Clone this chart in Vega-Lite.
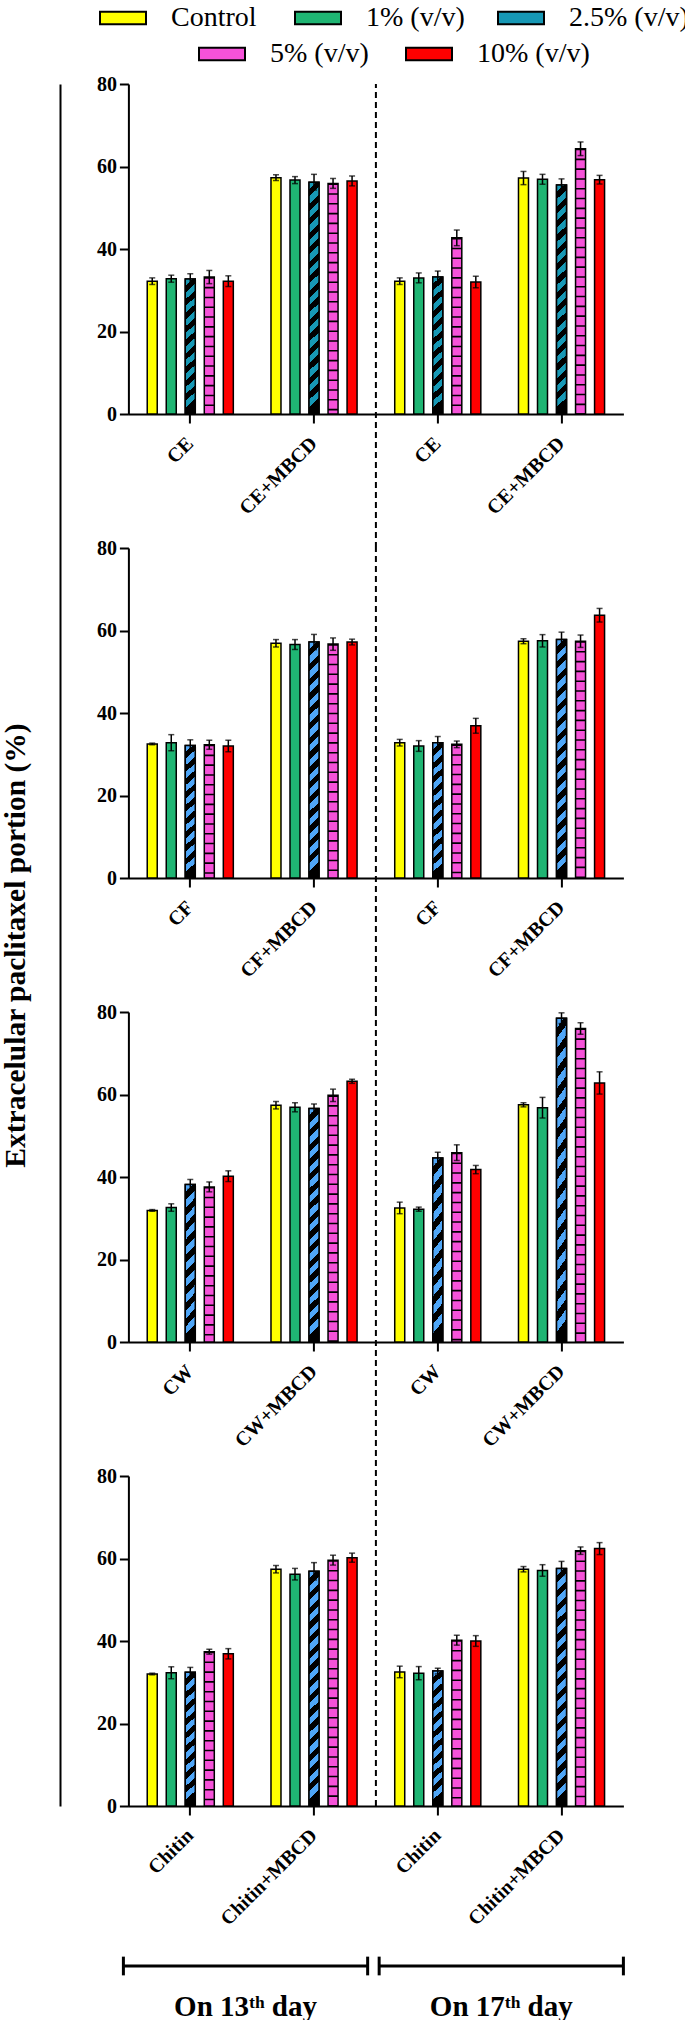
{
  "$schema": "https://vega.github.io/schema/vega-lite/v6.json",
  "background": "white",
  "padding": {"left": 0, "top": 4, "right": 0, "bottom": 0},
  "config": {
    "view": {"stroke": null},
    "font": "Liberation Serif",
    "axis": {"grid": false, "domainColor": "black", "domainWidth": 2, "tickColor": "black", "tickWidth": 2, "tickSize": 9, "labelColor": "black", "labelFont": "Liberation Serif", "labelFontWeight": "bold", "titleColor": "black", "titleFont": "Liberation Serif"},
    "axisX": {"labelAngle": -45, "labelAlign": "right", "labelBaseline": "middle", "labelFontSize": 20, "labelPadding": 17},
    "axisY": {"labelFontSize": 20, "labelPadding": 3},
    "legend": {"orient": "none", "direction": "horizontal", "title": null, "padding": 0, "labelFont": "Liberation Serif", "labelFontSize": 28, "labelColor": "black", "symbolType": "M-2,-0.54H2V0.54H-2Z", "symbolSize": 529, "symbolStrokeColor": "black", "symbolStrokeWidth": 2, "symbolOpacity": 1, "labelOffset": 34}
  },
  "datasets": {
    "bars": [
      {"m": "CE", "s": "CE|13", "c": "Control", "v": 32.2, "lo": 31.4, "hi": 33.0},
      {"m": "CE", "s": "CE|13", "c": "1% (v/v)", "v": 32.8, "lo": 31.95, "hi": 33.65},
      {"m": "CE", "s": "CE|13", "c": "2.5% (v/v)", "v": 32.7, "lo": 31.4, "hi": 34.0},
      {"m": "CE", "s": "CE|13", "c": "5% (v/v)", "v": 33.2, "lo": 31.6, "hi": 34.8},
      {"m": "CE", "s": "CE|13", "c": "10% (v/v)", "v": 32.2, "lo": 30.9, "hi": 33.5},
      {"m": "CE", "s": "CE+MBCD|13", "c": "Control", "v": 57.3, "lo": 56.6, "hi": 58.0},
      {"m": "CE", "s": "CE+MBCD|13", "c": "1% (v/v)", "v": 56.7, "lo": 55.85, "hi": 57.55},
      {"m": "CE", "s": "CE+MBCD|13", "c": "2.5% (v/v)", "v": 56.2, "lo": 54.3, "hi": 58.1},
      {"m": "CE", "s": "CE+MBCD|13", "c": "5% (v/v)", "v": 55.9, "lo": 54.7, "hi": 57.1},
      {"m": "CE", "s": "CE+MBCD|13", "c": "10% (v/v)", "v": 56.5, "lo": 55.3, "hi": 57.7},
      {"m": "CE", "s": "CE|17", "c": "Control", "v": 32.2, "lo": 31.4, "hi": 33.0},
      {"m": "CE", "s": "CE|17", "c": "1% (v/v)", "v": 33.0, "lo": 31.8, "hi": 34.2},
      {"m": "CE", "s": "CE|17", "c": "2.5% (v/v)", "v": 33.2, "lo": 31.75, "hi": 34.65},
      {"m": "CE", "s": "CE|17", "c": "5% (v/v)", "v": 42.7, "lo": 40.8, "hi": 44.6},
      {"m": "CE", "s": "CE|17", "c": "10% (v/v)", "v": 32.0, "lo": 30.6, "hi": 33.4},
      {"m": "CE", "s": "CE+MBCD|17", "c": "Control", "v": 57.2, "lo": 55.6, "hi": 58.8},
      {"m": "CE", "s": "CE+MBCD|17", "c": "1% (v/v)", "v": 56.9, "lo": 55.7, "hi": 58.1},
      {"m": "CE", "s": "CE+MBCD|17", "c": "2.5% (v/v)", "v": 55.5, "lo": 54.0, "hi": 57.0},
      {"m": "CE", "s": "CE+MBCD|17", "c": "5% (v/v)", "v": 64.3, "lo": 62.65, "hi": 65.95},
      {"m": "CE", "s": "CE+MBCD|17", "c": "10% (v/v)", "v": 56.8, "lo": 55.75, "hi": 57.85},
      {"m": "CF", "s": "CF|13", "c": "Control", "v": 32.5, "lo": 32.3, "hi": 32.7},
      {"m": "CF", "s": "CF|13", "c": "1% (v/v)", "v": 32.8, "lo": 30.85, "hi": 34.75},
      {"m": "CF", "s": "CF|13", "c": "2.5% (v/v)", "v": 32.1, "lo": 30.7, "hi": 33.5},
      {"m": "CF", "s": "CF|13", "c": "5% (v/v)", "v": 32.3, "lo": 31.2, "hi": 33.4},
      {"m": "CF", "s": "CF|13", "c": "10% (v/v)", "v": 32.0, "lo": 30.6, "hi": 33.4},
      {"m": "CF", "s": "CF+MBCD|13", "c": "Control", "v": 56.9, "lo": 56.0, "hi": 57.8},
      {"m": "CF", "s": "CF+MBCD|13", "c": "1% (v/v)", "v": 56.6, "lo": 55.4, "hi": 57.8},
      {"m": "CF", "s": "CF+MBCD|13", "c": "2.5% (v/v)", "v": 57.2, "lo": 55.35, "hi": 59.05},
      {"m": "CF", "s": "CF+MBCD|13", "c": "5% (v/v)", "v": 56.7, "lo": 55.2, "hi": 58.2},
      {"m": "CF", "s": "CF+MBCD|13", "c": "10% (v/v)", "v": 57.2, "lo": 56.5, "hi": 57.9},
      {"m": "CF", "s": "CF|17", "c": "Control", "v": 32.8, "lo": 32.0, "hi": 33.6},
      {"m": "CF", "s": "CF|17", "c": "1% (v/v)", "v": 32.0, "lo": 30.7, "hi": 33.3},
      {"m": "CF", "s": "CF|17", "c": "2.5% (v/v)", "v": 32.8, "lo": 31.3, "hi": 34.3},
      {"m": "CF", "s": "CF|17", "c": "5% (v/v)", "v": 32.4, "lo": 31.6, "hi": 33.2},
      {"m": "CF", "s": "CF|17", "c": "10% (v/v)", "v": 36.9, "lo": 35.1, "hi": 38.7},
      {"m": "CF", "s": "CF+MBCD|17", "c": "Control", "v": 57.4, "lo": 56.8, "hi": 58.0},
      {"m": "CF", "s": "CF+MBCD|17", "c": "1% (v/v)", "v": 57.5, "lo": 56.0, "hi": 59.0},
      {"m": "CF", "s": "CF+MBCD|17", "c": "2.5% (v/v)", "v": 57.8, "lo": 56.0, "hi": 59.6},
      {"m": "CF", "s": "CF+MBCD|17", "c": "5% (v/v)", "v": 57.4, "lo": 55.9, "hi": 58.9},
      {"m": "CF", "s": "CF+MBCD|17", "c": "10% (v/v)", "v": 63.7, "lo": 62.05, "hi": 65.35},
      {"m": "CW", "s": "CW|13", "c": "Control", "v": 31.9, "lo": 31.7, "hi": 32.1},
      {"m": "CW", "s": "CW|13", "c": "1% (v/v)", "v": 32.6, "lo": 31.7, "hi": 33.5},
      {"m": "CW", "s": "CW|13", "c": "2.5% (v/v)", "v": 38.2, "lo": 37.0, "hi": 39.4},
      {"m": "CW", "s": "CW|13", "c": "5% (v/v)", "v": 37.6, "lo": 36.4, "hi": 38.8},
      {"m": "CW", "s": "CW|13", "c": "10% (v/v)", "v": 40.2, "lo": 38.9, "hi": 41.5},
      {"m": "CW", "s": "CW+MBCD|13", "c": "Control", "v": 57.4, "lo": 56.5, "hi": 58.3},
      {"m": "CW", "s": "CW+MBCD|13", "c": "1% (v/v)", "v": 56.9, "lo": 55.8, "hi": 58.0},
      {"m": "CW", "s": "CW+MBCD|13", "c": "2.5% (v/v)", "v": 56.6, "lo": 55.5, "hi": 57.7},
      {"m": "CW", "s": "CW+MBCD|13", "c": "5% (v/v)", "v": 59.8, "lo": 58.3, "hi": 61.3},
      {"m": "CW", "s": "CW+MBCD|13", "c": "10% (v/v)", "v": 63.2, "lo": 62.7, "hi": 63.7},
      {"m": "CW", "s": "CW|17", "c": "Control", "v": 32.5, "lo": 31.1, "hi": 33.9},
      {"m": "CW", "s": "CW|17", "c": "1% (v/v)", "v": 32.2, "lo": 31.7, "hi": 32.7},
      {"m": "CW", "s": "CW|17", "c": "2.5% (v/v)", "v": 44.6, "lo": 43.2, "hi": 46.0},
      {"m": "CW", "s": "CW|17", "c": "5% (v/v)", "v": 45.9, "lo": 44.0, "hi": 47.8},
      {"m": "CW", "s": "CW|17", "c": "10% (v/v)", "v": 41.8, "lo": 40.8, "hi": 42.8},
      {"m": "CW", "s": "CW+MBCD|17", "c": "Control", "v": 57.5, "lo": 57.0, "hi": 58.0},
      {"m": "CW", "s": "CW+MBCD|17", "c": "1% (v/v)", "v": 56.8, "lo": 54.3, "hi": 59.3},
      {"m": "CW", "s": "CW+MBCD|17", "c": "2.5% (v/v)", "v": 78.5, "lo": 77.2, "hi": 79.8},
      {"m": "CW", "s": "CW+MBCD|17", "c": "5% (v/v)", "v": 76.0, "lo": 74.6, "hi": 77.4},
      {"m": "CW", "s": "CW+MBCD|17", "c": "10% (v/v)", "v": 62.8, "lo": 60.1, "hi": 65.5},
      {"m": "Chitin", "s": "Chitin|13", "c": "Control", "v": 32.0, "lo": 31.8, "hi": 32.2},
      {"m": "Chitin", "s": "Chitin|13", "c": "1% (v/v)", "v": 32.3, "lo": 30.85, "hi": 33.75},
      {"m": "Chitin", "s": "Chitin|13", "c": "2.5% (v/v)", "v": 32.4, "lo": 31.2, "hi": 33.6},
      {"m": "Chitin", "s": "Chitin|13", "c": "5% (v/v)", "v": 37.4, "lo": 36.8, "hi": 38.0},
      {"m": "Chitin", "s": "Chitin|13", "c": "10% (v/v)", "v": 36.9, "lo": 35.65, "hi": 38.15},
      {"m": "Chitin", "s": "Chitin+MBCD|13", "c": "Control", "v": 57.4, "lo": 56.5, "hi": 58.3},
      {"m": "Chitin", "s": "Chitin+MBCD|13", "c": "1% (v/v)", "v": 56.2, "lo": 54.8, "hi": 57.6},
      {"m": "Chitin", "s": "Chitin+MBCD|13", "c": "2.5% (v/v)", "v": 56.9, "lo": 54.8, "hi": 59.0},
      {"m": "Chitin", "s": "Chitin+MBCD|13", "c": "5% (v/v)", "v": 59.6, "lo": 58.4, "hi": 60.8},
      {"m": "Chitin", "s": "Chitin+MBCD|13", "c": "10% (v/v)", "v": 60.2, "lo": 59.1, "hi": 61.3},
      {"m": "Chitin", "s": "Chitin|17", "c": "Control", "v": 32.5, "lo": 31.1, "hi": 33.9},
      {"m": "Chitin", "s": "Chitin|17", "c": "1% (v/v)", "v": 32.2, "lo": 30.6, "hi": 33.8},
      {"m": "Chitin", "s": "Chitin|17", "c": "2.5% (v/v)", "v": 32.7, "lo": 32.0, "hi": 33.4},
      {"m": "Chitin", "s": "Chitin|17", "c": "5% (v/v)", "v": 40.2, "lo": 39.0, "hi": 41.4},
      {"m": "Chitin", "s": "Chitin|17", "c": "10% (v/v)", "v": 40.0, "lo": 38.7, "hi": 41.3},
      {"m": "Chitin", "s": "Chitin+MBCD|17", "c": "Control", "v": 57.4, "lo": 56.75, "hi": 58.05},
      {"m": "Chitin", "s": "Chitin+MBCD|17", "c": "1% (v/v)", "v": 57.1, "lo": 55.7, "hi": 58.5},
      {"m": "Chitin", "s": "Chitin+MBCD|17", "c": "2.5% (v/v)", "v": 57.6, "lo": 55.9, "hi": 59.3},
      {"m": "Chitin", "s": "Chitin+MBCD|17", "c": "5% (v/v)", "v": 61.9, "lo": 61.0, "hi": 62.8},
      {"m": "Chitin", "s": "Chitin+MBCD|17", "c": "10% (v/v)", "v": 62.4, "lo": 60.95, "hi": 63.85}
    ]
  },
  "bounds": "flush",
  "spacing": 58.4,
  "resolve": {"scale": {"fill": "independent"}, "legend": {"fill": "independent"}},
  "hconcat": [
    {
      "width": 10,
      "height": 1722,
      "data": {"name": "bars"},
      "resolve": {"scale": {"fill": "independent"}, "legend": {"fill": "independent"}},
      "layer": [
        {
          "transform": [{"filter": "datum.c == 'Control'"}],
          "mark": {"type": "point", "filled": true, "opacity": 0},
          "encoding": {
            "y": {"datum": 0.5, "type": "quantitative", "scale": {"domain": [0, 1]}, "axis": {"title": "Extracelular paclitaxel portion (%)", "labels": false, "ticks": false, "domainWidth": 2, "titleFontSize": 29.5, "titleFontWeight": "bold", "titlePadding": 30}},
            "fill": {"field": "c", "type": "nominal", "scale": {"domain": ["Control"], "range": ["#ffff00"]}, "legend": {"values": ["Control"], "legendX": 49, "legendY": -80}}
          }
        },
        {
          "transform": [{"filter": "datum.c == '1% (v/v)'"}],
          "mark": {"type": "point", "filled": true, "opacity": 0},
          "encoding": {
            "y": {"datum": 0.5, "type": "quantitative", "scale": {"domain": [0, 1]}, "title": "Extracelular paclitaxel portion (%)"},
            "fill": {"field": "c", "type": "nominal", "scale": {"domain": ["1% (v/v)"], "range": ["#1fb573"]}, "legend": {"values": ["1% (v/v)"], "legendX": 244, "legendY": -80}}
          }
        },
        {
          "transform": [{"filter": "datum.c == '2.5% (v/v)'"}],
          "mark": {"type": "point", "filled": true, "opacity": 0},
          "encoding": {
            "y": {"datum": 0.5, "type": "quantitative", "scale": {"domain": [0, 1]}, "title": "Extracelular paclitaxel portion (%)"},
            "fill": {"field": "c", "type": "nominal", "scale": {"domain": ["2.5% (v/v)"], "range": ["#1798b5"]}, "legend": {"values": ["2.5% (v/v)"], "legendX": 447, "legendY": -80}}
          }
        },
        {
          "transform": [{"filter": "datum.c == '5% (v/v)'"}],
          "mark": {"type": "point", "filled": true, "opacity": 0},
          "encoding": {
            "y": {"datum": 0.5, "type": "quantitative", "scale": {"domain": [0, 1]}, "title": "Extracelular paclitaxel portion (%)"},
            "fill": {"field": "c", "type": "nominal", "scale": {"domain": ["5% (v/v)"], "range": ["#f652d9"]}, "legend": {"values": ["5% (v/v)"], "legendX": 148, "legendY": -44}}
          }
        },
        {
          "transform": [{"filter": "datum.c == '10% (v/v)'"}],
          "mark": {"type": "point", "filled": true, "opacity": 0},
          "encoding": {
            "y": {"datum": 0.5, "type": "quantitative", "scale": {"domain": [0, 1]}, "title": "Extracelular paclitaxel portion (%)"},
            "fill": {"field": "c", "type": "nominal", "scale": {"domain": ["10% (v/v)"], "range": ["#ff0000"]}, "legend": {"values": ["10% (v/v)"], "legendX": 355, "legendY": -44}}
          }
        }
      ]
    },
    {
      "bounds": "flush",
      "spacing": 134,
      "resolve": {"scale": {"fill": "independent"}, "legend": {"fill": "independent"}},
      "vconcat": [
        {
          "width": 495, "height": 330,
          "data": {"name": "bars"},
          "transform": [{"filter": "datum.m == 'CE'"}],
          "layer": [
            {"mark": {"type": "bar", "stroke": "black", "strokeWidth": 1.5},
             "encoding": {
               "x": {"field": "s", "type": "nominal", "title": null, "scale": {"domain": ["CE|13", "CE+MBCD|13", "CE|17", "CE+MBCD|17"], "paddingInner": 0, "paddingOuter": 0}, "axis": {"labelExpr": "split(datum.label, '|')[0]", "labelAngle": -45}},
               "xOffset": {"field": "c", "type": "nominal", "scale": {"domain": ["Control", "1% (v/v)", "2.5% (v/v)", "5% (v/v)", "10% (v/v)"], "paddingInner": 0.474, "paddingOuter": 0.99}},
               "y": {"field": "v", "type": "quantitative", "title": null, "scale": {"domain": [0, 80], "nice": false}, "axis": {"values": [0, 20, 40, 60, 80]}},
               "fill": {"field": "c", "type": "nominal", "scale": {"domain": ["Control", "1% (v/v)", "2.5% (v/v)", "5% (v/v)", "10% (v/v)"], "range": ["#ffff00", "#1fb573", "#1798b5", "#f652d9", "#ff0000"]}, "legend": null}
             }},
            {"transform": [{"filter": "datum.c == '2.5% (v/v)' && datum.v < 50"}],
             "mark": {"type": "bar", "stroke": "black", "strokeWidth": 1.5, "fill": {"gradient": "linear", "x1": 0, "y1": 0, "x2": 0.067, "y2": 1, "stops": [
               {"offset": 0, "color": "#1798b5"}, {"offset": 0.05, "color": "#1798b5"}, {"offset": 0.05, "color": "#000000"}, {"offset": 0.1, "color": "#000000"},
               {"offset": 0.1, "color": "#1798b5"}, {"offset": 0.15, "color": "#1798b5"}, {"offset": 0.15, "color": "#000000"}, {"offset": 0.2, "color": "#000000"},
               {"offset": 0.2, "color": "#1798b5"}, {"offset": 0.25, "color": "#1798b5"}, {"offset": 0.25, "color": "#000000"}, {"offset": 0.3, "color": "#000000"},
               {"offset": 0.3, "color": "#1798b5"}, {"offset": 0.35, "color": "#1798b5"}, {"offset": 0.35, "color": "#000000"}, {"offset": 0.4, "color": "#000000"},
               {"offset": 0.4, "color": "#1798b5"}, {"offset": 0.45, "color": "#1798b5"}, {"offset": 0.45, "color": "#000000"}, {"offset": 0.5, "color": "#000000"},
               {"offset": 0.5, "color": "#1798b5"}, {"offset": 0.55, "color": "#1798b5"}, {"offset": 0.55, "color": "#000000"}, {"offset": 0.6, "color": "#000000"},
               {"offset": 0.6, "color": "#1798b5"}, {"offset": 0.65, "color": "#1798b5"}, {"offset": 0.65, "color": "#000000"}, {"offset": 0.7, "color": "#000000"},
               {"offset": 0.7, "color": "#1798b5"}, {"offset": 0.75, "color": "#1798b5"}, {"offset": 0.75, "color": "#000000"}, {"offset": 0.8, "color": "#000000"},
               {"offset": 0.8, "color": "#1798b5"}, {"offset": 0.85, "color": "#1798b5"}, {"offset": 0.85, "color": "#000000"}, {"offset": 0.9, "color": "#000000"},
               {"offset": 0.9, "color": "#1798b5"}, {"offset": 0.95, "color": "#1798b5"}, {"offset": 0.95, "color": "#000000"}, {"offset": 1, "color": "#000000"}]}},
             "encoding": {
               "x": {"field": "s", "type": "nominal", "title": null},
               "xOffset": {"field": "c", "type": "nominal"},
               "y": {"field": "v", "type": "quantitative", "title": null}
             }},
            {"transform": [{"filter": "datum.c == '2.5% (v/v)' && datum.v >= 50"}],
             "mark": {"type": "bar", "stroke": "black", "strokeWidth": 1.5, "fill": {"gradient": "linear", "x1": 0, "y1": 0, "x2": 0.042, "y2": 1, "stops": [
               {"offset": 0, "color": "#1798b5"}, {"offset": 0.03125, "color": "#1798b5"}, {"offset": 0.03125, "color": "#000000"}, {"offset": 0.0625, "color": "#000000"},
               {"offset": 0.0625, "color": "#1798b5"}, {"offset": 0.09375, "color": "#1798b5"}, {"offset": 0.09375, "color": "#000000"}, {"offset": 0.125, "color": "#000000"},
               {"offset": 0.125, "color": "#1798b5"}, {"offset": 0.15625, "color": "#1798b5"}, {"offset": 0.15625, "color": "#000000"}, {"offset": 0.1875, "color": "#000000"},
               {"offset": 0.1875, "color": "#1798b5"}, {"offset": 0.21875, "color": "#1798b5"}, {"offset": 0.21875, "color": "#000000"}, {"offset": 0.25, "color": "#000000"},
               {"offset": 0.25, "color": "#1798b5"}, {"offset": 0.28125, "color": "#1798b5"}, {"offset": 0.28125, "color": "#000000"}, {"offset": 0.3125, "color": "#000000"},
               {"offset": 0.3125, "color": "#1798b5"}, {"offset": 0.34375, "color": "#1798b5"}, {"offset": 0.34375, "color": "#000000"}, {"offset": 0.375, "color": "#000000"},
               {"offset": 0.375, "color": "#1798b5"}, {"offset": 0.40625, "color": "#1798b5"}, {"offset": 0.40625, "color": "#000000"}, {"offset": 0.4375, "color": "#000000"},
               {"offset": 0.4375, "color": "#1798b5"}, {"offset": 0.46875, "color": "#1798b5"}, {"offset": 0.46875, "color": "#000000"}, {"offset": 0.5, "color": "#000000"},
               {"offset": 0.5, "color": "#1798b5"}, {"offset": 0.53125, "color": "#1798b5"}, {"offset": 0.53125, "color": "#000000"}, {"offset": 0.5625, "color": "#000000"},
               {"offset": 0.5625, "color": "#1798b5"}, {"offset": 0.59375, "color": "#1798b5"}, {"offset": 0.59375, "color": "#000000"}, {"offset": 0.625, "color": "#000000"},
               {"offset": 0.625, "color": "#1798b5"}, {"offset": 0.65625, "color": "#1798b5"}, {"offset": 0.65625, "color": "#000000"}, {"offset": 0.6875, "color": "#000000"},
               {"offset": 0.6875, "color": "#1798b5"}, {"offset": 0.71875, "color": "#1798b5"}, {"offset": 0.71875, "color": "#000000"}, {"offset": 0.75, "color": "#000000"},
               {"offset": 0.75, "color": "#1798b5"}, {"offset": 0.78125, "color": "#1798b5"}, {"offset": 0.78125, "color": "#000000"}, {"offset": 0.8125, "color": "#000000"},
               {"offset": 0.8125, "color": "#1798b5"}, {"offset": 0.84375, "color": "#1798b5"}, {"offset": 0.84375, "color": "#000000"}, {"offset": 0.875, "color": "#000000"},
               {"offset": 0.875, "color": "#1798b5"}, {"offset": 0.90625, "color": "#1798b5"}, {"offset": 0.90625, "color": "#000000"}, {"offset": 0.9375, "color": "#000000"},
               {"offset": 0.9375, "color": "#1798b5"}, {"offset": 0.96875, "color": "#1798b5"}, {"offset": 0.96875, "color": "#000000"}, {"offset": 1, "color": "#000000"}]}},
             "encoding": {
               "x": {"field": "s", "type": "nominal", "title": null},
               "xOffset": {"field": "c", "type": "nominal"},
               "y": {"field": "v", "type": "quantitative", "title": null}
             }},
            {"transform": [{"filter": "datum.c == '5% (v/v)'"}],
             "mark": {"type": "rule", "color": "black", "strokeWidth": 10, "strokeDash": [1.6, 8.2], "strokeCap": "butt"},
             "encoding": {
               "x": {"field": "s", "type": "nominal", "title": null},
               "xOffset": {"field": "c", "type": "nominal"},
               "y": {"field": "v", "type": "quantitative", "title": null},
               "y2": {"datum": 0}
             }},
            {"mark": {"type": "rule", "color": "black", "strokeWidth": 1.5},
             "encoding": {
               "x": {"field": "s", "type": "nominal", "title": null},
               "xOffset": {"field": "c", "type": "nominal"},
               "y": {"field": "lo", "type": "quantitative", "title": null},
               "y2": {"field": "hi"}
             }},
            {"mark": {"type": "tick", "color": "black", "thickness": 1.5, "size": 6},
             "encoding": {
               "x": {"field": "s", "type": "nominal", "title": null},
               "xOffset": {"field": "c", "type": "nominal"},
               "y": {"field": "lo", "type": "quantitative", "title": null}
             }},
            {"mark": {"type": "tick", "color": "black", "thickness": 1.5, "size": 6},
             "encoding": {
               "x": {"field": "s", "type": "nominal", "title": null},
               "xOffset": {"field": "c", "type": "nominal"},
               "y": {"field": "hi", "type": "quantitative", "title": null}
             }},
            {"data": {"values": [{"sep": "day"}]},
             "mark": {"type": "rule", "color": "black", "strokeWidth": 2, "strokeDash": [6, 4]},
             "encoding": {
               "x": {"datum": "CE+MBCD|13", "type": "nominal", "bandPosition": 1, "title": null},
               "y": {"datum": -32.5, "type": "quantitative", "title": null},
               "y2": {"datum": 80}
             }}
          ]
        },
        {
          "width": 495, "height": 330,
          "data": {"name": "bars"},
          "transform": [{"filter": "datum.m == 'CF'"}],
          "layer": [
            {"mark": {"type": "bar", "stroke": "black", "strokeWidth": 1.5},
             "encoding": {
               "x": {"field": "s", "type": "nominal", "title": null, "scale": {"domain": ["CF|13", "CF+MBCD|13", "CF|17", "CF+MBCD|17"], "paddingInner": 0, "paddingOuter": 0}, "axis": {"labelExpr": "split(datum.label, '|')[0]", "labelAngle": -45}},
               "xOffset": {"field": "c", "type": "nominal", "scale": {"domain": ["Control", "1% (v/v)", "2.5% (v/v)", "5% (v/v)", "10% (v/v)"], "paddingInner": 0.474, "paddingOuter": 0.99}},
               "y": {"field": "v", "type": "quantitative", "title": null, "scale": {"domain": [0, 80], "nice": false}, "axis": {"values": [0, 20, 40, 60, 80]}},
               "fill": {"field": "c", "type": "nominal", "scale": {"domain": ["Control", "1% (v/v)", "2.5% (v/v)", "5% (v/v)", "10% (v/v)"], "range": ["#ffff00", "#1fb573", "#4fa6f7", "#f652d9", "#ff0000"]}, "legend": null}
             }},
            {"transform": [{"filter": "datum.c == '2.5% (v/v)' && datum.v < 50"}],
             "mark": {"type": "bar", "stroke": "black", "strokeWidth": 1.5, "fill": {"gradient": "linear", "x1": 0, "y1": 0, "x2": 0.067, "y2": 1, "stops": [
               {"offset": 0, "color": "#4fa6f7"}, {"offset": 0.05, "color": "#4fa6f7"}, {"offset": 0.05, "color": "#000000"}, {"offset": 0.1, "color": "#000000"},
               {"offset": 0.1, "color": "#4fa6f7"}, {"offset": 0.15, "color": "#4fa6f7"}, {"offset": 0.15, "color": "#000000"}, {"offset": 0.2, "color": "#000000"},
               {"offset": 0.2, "color": "#4fa6f7"}, {"offset": 0.25, "color": "#4fa6f7"}, {"offset": 0.25, "color": "#000000"}, {"offset": 0.3, "color": "#000000"},
               {"offset": 0.3, "color": "#4fa6f7"}, {"offset": 0.35, "color": "#4fa6f7"}, {"offset": 0.35, "color": "#000000"}, {"offset": 0.4, "color": "#000000"},
               {"offset": 0.4, "color": "#4fa6f7"}, {"offset": 0.45, "color": "#4fa6f7"}, {"offset": 0.45, "color": "#000000"}, {"offset": 0.5, "color": "#000000"},
               {"offset": 0.5, "color": "#4fa6f7"}, {"offset": 0.55, "color": "#4fa6f7"}, {"offset": 0.55, "color": "#000000"}, {"offset": 0.6, "color": "#000000"},
               {"offset": 0.6, "color": "#4fa6f7"}, {"offset": 0.65, "color": "#4fa6f7"}, {"offset": 0.65, "color": "#000000"}, {"offset": 0.7, "color": "#000000"},
               {"offset": 0.7, "color": "#4fa6f7"}, {"offset": 0.75, "color": "#4fa6f7"}, {"offset": 0.75, "color": "#000000"}, {"offset": 0.8, "color": "#000000"},
               {"offset": 0.8, "color": "#4fa6f7"}, {"offset": 0.85, "color": "#4fa6f7"}, {"offset": 0.85, "color": "#000000"}, {"offset": 0.9, "color": "#000000"},
               {"offset": 0.9, "color": "#4fa6f7"}, {"offset": 0.95, "color": "#4fa6f7"}, {"offset": 0.95, "color": "#000000"}, {"offset": 1, "color": "#000000"}]}},
             "encoding": {
               "x": {"field": "s", "type": "nominal", "title": null},
               "xOffset": {"field": "c", "type": "nominal"},
               "y": {"field": "v", "type": "quantitative", "title": null}
             }},
            {"transform": [{"filter": "datum.c == '2.5% (v/v)' && datum.v >= 50"}],
             "mark": {"type": "bar", "stroke": "black", "strokeWidth": 1.5, "fill": {"gradient": "linear", "x1": 0, "y1": 0, "x2": 0.042, "y2": 1, "stops": [
               {"offset": 0, "color": "#4fa6f7"}, {"offset": 0.03125, "color": "#4fa6f7"}, {"offset": 0.03125, "color": "#000000"}, {"offset": 0.0625, "color": "#000000"},
               {"offset": 0.0625, "color": "#4fa6f7"}, {"offset": 0.09375, "color": "#4fa6f7"}, {"offset": 0.09375, "color": "#000000"}, {"offset": 0.125, "color": "#000000"},
               {"offset": 0.125, "color": "#4fa6f7"}, {"offset": 0.15625, "color": "#4fa6f7"}, {"offset": 0.15625, "color": "#000000"}, {"offset": 0.1875, "color": "#000000"},
               {"offset": 0.1875, "color": "#4fa6f7"}, {"offset": 0.21875, "color": "#4fa6f7"}, {"offset": 0.21875, "color": "#000000"}, {"offset": 0.25, "color": "#000000"},
               {"offset": 0.25, "color": "#4fa6f7"}, {"offset": 0.28125, "color": "#4fa6f7"}, {"offset": 0.28125, "color": "#000000"}, {"offset": 0.3125, "color": "#000000"},
               {"offset": 0.3125, "color": "#4fa6f7"}, {"offset": 0.34375, "color": "#4fa6f7"}, {"offset": 0.34375, "color": "#000000"}, {"offset": 0.375, "color": "#000000"},
               {"offset": 0.375, "color": "#4fa6f7"}, {"offset": 0.40625, "color": "#4fa6f7"}, {"offset": 0.40625, "color": "#000000"}, {"offset": 0.4375, "color": "#000000"},
               {"offset": 0.4375, "color": "#4fa6f7"}, {"offset": 0.46875, "color": "#4fa6f7"}, {"offset": 0.46875, "color": "#000000"}, {"offset": 0.5, "color": "#000000"},
               {"offset": 0.5, "color": "#4fa6f7"}, {"offset": 0.53125, "color": "#4fa6f7"}, {"offset": 0.53125, "color": "#000000"}, {"offset": 0.5625, "color": "#000000"},
               {"offset": 0.5625, "color": "#4fa6f7"}, {"offset": 0.59375, "color": "#4fa6f7"}, {"offset": 0.59375, "color": "#000000"}, {"offset": 0.625, "color": "#000000"},
               {"offset": 0.625, "color": "#4fa6f7"}, {"offset": 0.65625, "color": "#4fa6f7"}, {"offset": 0.65625, "color": "#000000"}, {"offset": 0.6875, "color": "#000000"},
               {"offset": 0.6875, "color": "#4fa6f7"}, {"offset": 0.71875, "color": "#4fa6f7"}, {"offset": 0.71875, "color": "#000000"}, {"offset": 0.75, "color": "#000000"},
               {"offset": 0.75, "color": "#4fa6f7"}, {"offset": 0.78125, "color": "#4fa6f7"}, {"offset": 0.78125, "color": "#000000"}, {"offset": 0.8125, "color": "#000000"},
               {"offset": 0.8125, "color": "#4fa6f7"}, {"offset": 0.84375, "color": "#4fa6f7"}, {"offset": 0.84375, "color": "#000000"}, {"offset": 0.875, "color": "#000000"},
               {"offset": 0.875, "color": "#4fa6f7"}, {"offset": 0.90625, "color": "#4fa6f7"}, {"offset": 0.90625, "color": "#000000"}, {"offset": 0.9375, "color": "#000000"},
               {"offset": 0.9375, "color": "#4fa6f7"}, {"offset": 0.96875, "color": "#4fa6f7"}, {"offset": 0.96875, "color": "#000000"}, {"offset": 1, "color": "#000000"}]}},
             "encoding": {
               "x": {"field": "s", "type": "nominal", "title": null},
               "xOffset": {"field": "c", "type": "nominal"},
               "y": {"field": "v", "type": "quantitative", "title": null}
             }},
            {"transform": [{"filter": "datum.c == '5% (v/v)'"}],
             "mark": {"type": "rule", "color": "black", "strokeWidth": 10, "strokeDash": [1.6, 8.2], "strokeCap": "butt"},
             "encoding": {
               "x": {"field": "s", "type": "nominal", "title": null},
               "xOffset": {"field": "c", "type": "nominal"},
               "y": {"field": "v", "type": "quantitative", "title": null},
               "y2": {"datum": 0}
             }},
            {"mark": {"type": "rule", "color": "black", "strokeWidth": 1.5},
             "encoding": {
               "x": {"field": "s", "type": "nominal", "title": null},
               "xOffset": {"field": "c", "type": "nominal"},
               "y": {"field": "lo", "type": "quantitative", "title": null},
               "y2": {"field": "hi"}
             }},
            {"mark": {"type": "tick", "color": "black", "thickness": 1.5, "size": 6},
             "encoding": {
               "x": {"field": "s", "type": "nominal", "title": null},
               "xOffset": {"field": "c", "type": "nominal"},
               "y": {"field": "lo", "type": "quantitative", "title": null}
             }},
            {"mark": {"type": "tick", "color": "black", "thickness": 1.5, "size": 6},
             "encoding": {
               "x": {"field": "s", "type": "nominal", "title": null},
               "xOffset": {"field": "c", "type": "nominal"},
               "y": {"field": "hi", "type": "quantitative", "title": null}
             }},
            {"data": {"values": [{"sep": "day"}]},
             "mark": {"type": "rule", "color": "black", "strokeWidth": 2, "strokeDash": [6, 4]},
             "encoding": {
               "x": {"datum": "CF+MBCD|13", "type": "nominal", "bandPosition": 1, "title": null},
               "y": {"datum": -32.5, "type": "quantitative", "title": null},
               "y2": {"datum": 80}
             }}
          ]
        },
        {
          "width": 495, "height": 330,
          "data": {"name": "bars"},
          "transform": [{"filter": "datum.m == 'CW'"}],
          "layer": [
            {"mark": {"type": "bar", "stroke": "black", "strokeWidth": 1.5},
             "encoding": {
               "x": {"field": "s", "type": "nominal", "title": null, "scale": {"domain": ["CW|13", "CW+MBCD|13", "CW|17", "CW+MBCD|17"], "paddingInner": 0, "paddingOuter": 0}, "axis": {"labelExpr": "split(datum.label, '|')[0]", "labelAngle": -45}},
               "xOffset": {"field": "c", "type": "nominal", "scale": {"domain": ["Control", "1% (v/v)", "2.5% (v/v)", "5% (v/v)", "10% (v/v)"], "paddingInner": 0.474, "paddingOuter": 0.99}},
               "y": {"field": "v", "type": "quantitative", "title": null, "scale": {"domain": [0, 80], "nice": false}, "axis": {"values": [0, 20, 40, 60, 80]}},
               "fill": {"field": "c", "type": "nominal", "scale": {"domain": ["Control", "1% (v/v)", "2.5% (v/v)", "5% (v/v)", "10% (v/v)"], "range": ["#ffff00", "#1fb573", "#4fa6f7", "#f652d9", "#ff0000"]}, "legend": null}
             }},
            {"transform": [{"filter": "datum.c == '2.5% (v/v)' && datum.v < 50"}],
             "mark": {"type": "bar", "stroke": "black", "strokeWidth": 1.5, "fill": {"gradient": "linear", "x1": 0, "y1": 0, "x2": 0.067, "y2": 1, "stops": [
               {"offset": 0, "color": "#4fa6f7"}, {"offset": 0.05, "color": "#4fa6f7"}, {"offset": 0.05, "color": "#000000"}, {"offset": 0.1, "color": "#000000"},
               {"offset": 0.1, "color": "#4fa6f7"}, {"offset": 0.15, "color": "#4fa6f7"}, {"offset": 0.15, "color": "#000000"}, {"offset": 0.2, "color": "#000000"},
               {"offset": 0.2, "color": "#4fa6f7"}, {"offset": 0.25, "color": "#4fa6f7"}, {"offset": 0.25, "color": "#000000"}, {"offset": 0.3, "color": "#000000"},
               {"offset": 0.3, "color": "#4fa6f7"}, {"offset": 0.35, "color": "#4fa6f7"}, {"offset": 0.35, "color": "#000000"}, {"offset": 0.4, "color": "#000000"},
               {"offset": 0.4, "color": "#4fa6f7"}, {"offset": 0.45, "color": "#4fa6f7"}, {"offset": 0.45, "color": "#000000"}, {"offset": 0.5, "color": "#000000"},
               {"offset": 0.5, "color": "#4fa6f7"}, {"offset": 0.55, "color": "#4fa6f7"}, {"offset": 0.55, "color": "#000000"}, {"offset": 0.6, "color": "#000000"},
               {"offset": 0.6, "color": "#4fa6f7"}, {"offset": 0.65, "color": "#4fa6f7"}, {"offset": 0.65, "color": "#000000"}, {"offset": 0.7, "color": "#000000"},
               {"offset": 0.7, "color": "#4fa6f7"}, {"offset": 0.75, "color": "#4fa6f7"}, {"offset": 0.75, "color": "#000000"}, {"offset": 0.8, "color": "#000000"},
               {"offset": 0.8, "color": "#4fa6f7"}, {"offset": 0.85, "color": "#4fa6f7"}, {"offset": 0.85, "color": "#000000"}, {"offset": 0.9, "color": "#000000"},
               {"offset": 0.9, "color": "#4fa6f7"}, {"offset": 0.95, "color": "#4fa6f7"}, {"offset": 0.95, "color": "#000000"}, {"offset": 1, "color": "#000000"}]}},
             "encoding": {
               "x": {"field": "s", "type": "nominal", "title": null},
               "xOffset": {"field": "c", "type": "nominal"},
               "y": {"field": "v", "type": "quantitative", "title": null}
             }},
            {"transform": [{"filter": "datum.c == '2.5% (v/v)' && datum.v >= 50"}],
             "mark": {"type": "bar", "stroke": "black", "strokeWidth": 1.5, "fill": {"gradient": "linear", "x1": 0, "y1": 0, "x2": 0.042, "y2": 1, "stops": [
               {"offset": 0, "color": "#4fa6f7"}, {"offset": 0.03125, "color": "#4fa6f7"}, {"offset": 0.03125, "color": "#000000"}, {"offset": 0.0625, "color": "#000000"},
               {"offset": 0.0625, "color": "#4fa6f7"}, {"offset": 0.09375, "color": "#4fa6f7"}, {"offset": 0.09375, "color": "#000000"}, {"offset": 0.125, "color": "#000000"},
               {"offset": 0.125, "color": "#4fa6f7"}, {"offset": 0.15625, "color": "#4fa6f7"}, {"offset": 0.15625, "color": "#000000"}, {"offset": 0.1875, "color": "#000000"},
               {"offset": 0.1875, "color": "#4fa6f7"}, {"offset": 0.21875, "color": "#4fa6f7"}, {"offset": 0.21875, "color": "#000000"}, {"offset": 0.25, "color": "#000000"},
               {"offset": 0.25, "color": "#4fa6f7"}, {"offset": 0.28125, "color": "#4fa6f7"}, {"offset": 0.28125, "color": "#000000"}, {"offset": 0.3125, "color": "#000000"},
               {"offset": 0.3125, "color": "#4fa6f7"}, {"offset": 0.34375, "color": "#4fa6f7"}, {"offset": 0.34375, "color": "#000000"}, {"offset": 0.375, "color": "#000000"},
               {"offset": 0.375, "color": "#4fa6f7"}, {"offset": 0.40625, "color": "#4fa6f7"}, {"offset": 0.40625, "color": "#000000"}, {"offset": 0.4375, "color": "#000000"},
               {"offset": 0.4375, "color": "#4fa6f7"}, {"offset": 0.46875, "color": "#4fa6f7"}, {"offset": 0.46875, "color": "#000000"}, {"offset": 0.5, "color": "#000000"},
               {"offset": 0.5, "color": "#4fa6f7"}, {"offset": 0.53125, "color": "#4fa6f7"}, {"offset": 0.53125, "color": "#000000"}, {"offset": 0.5625, "color": "#000000"},
               {"offset": 0.5625, "color": "#4fa6f7"}, {"offset": 0.59375, "color": "#4fa6f7"}, {"offset": 0.59375, "color": "#000000"}, {"offset": 0.625, "color": "#000000"},
               {"offset": 0.625, "color": "#4fa6f7"}, {"offset": 0.65625, "color": "#4fa6f7"}, {"offset": 0.65625, "color": "#000000"}, {"offset": 0.6875, "color": "#000000"},
               {"offset": 0.6875, "color": "#4fa6f7"}, {"offset": 0.71875, "color": "#4fa6f7"}, {"offset": 0.71875, "color": "#000000"}, {"offset": 0.75, "color": "#000000"},
               {"offset": 0.75, "color": "#4fa6f7"}, {"offset": 0.78125, "color": "#4fa6f7"}, {"offset": 0.78125, "color": "#000000"}, {"offset": 0.8125, "color": "#000000"},
               {"offset": 0.8125, "color": "#4fa6f7"}, {"offset": 0.84375, "color": "#4fa6f7"}, {"offset": 0.84375, "color": "#000000"}, {"offset": 0.875, "color": "#000000"},
               {"offset": 0.875, "color": "#4fa6f7"}, {"offset": 0.90625, "color": "#4fa6f7"}, {"offset": 0.90625, "color": "#000000"}, {"offset": 0.9375, "color": "#000000"},
               {"offset": 0.9375, "color": "#4fa6f7"}, {"offset": 0.96875, "color": "#4fa6f7"}, {"offset": 0.96875, "color": "#000000"}, {"offset": 1, "color": "#000000"}]}},
             "encoding": {
               "x": {"field": "s", "type": "nominal", "title": null},
               "xOffset": {"field": "c", "type": "nominal"},
               "y": {"field": "v", "type": "quantitative", "title": null}
             }},
            {"transform": [{"filter": "datum.c == '5% (v/v)'"}],
             "mark": {"type": "rule", "color": "black", "strokeWidth": 10, "strokeDash": [1.6, 8.2], "strokeCap": "butt"},
             "encoding": {
               "x": {"field": "s", "type": "nominal", "title": null},
               "xOffset": {"field": "c", "type": "nominal"},
               "y": {"field": "v", "type": "quantitative", "title": null},
               "y2": {"datum": 0}
             }},
            {"mark": {"type": "rule", "color": "black", "strokeWidth": 1.5},
             "encoding": {
               "x": {"field": "s", "type": "nominal", "title": null},
               "xOffset": {"field": "c", "type": "nominal"},
               "y": {"field": "lo", "type": "quantitative", "title": null},
               "y2": {"field": "hi"}
             }},
            {"mark": {"type": "tick", "color": "black", "thickness": 1.5, "size": 6},
             "encoding": {
               "x": {"field": "s", "type": "nominal", "title": null},
               "xOffset": {"field": "c", "type": "nominal"},
               "y": {"field": "lo", "type": "quantitative", "title": null}
             }},
            {"mark": {"type": "tick", "color": "black", "thickness": 1.5, "size": 6},
             "encoding": {
               "x": {"field": "s", "type": "nominal", "title": null},
               "xOffset": {"field": "c", "type": "nominal"},
               "y": {"field": "hi", "type": "quantitative", "title": null}
             }},
            {"data": {"values": [{"sep": "day"}]},
             "mark": {"type": "rule", "color": "black", "strokeWidth": 2, "strokeDash": [6, 4]},
             "encoding": {
               "x": {"datum": "CW+MBCD|13", "type": "nominal", "bandPosition": 1, "title": null},
               "y": {"datum": -32.5, "type": "quantitative", "title": null},
               "y2": {"datum": 80}
             }}
          ]
        },
        {
          "width": 495, "height": 330,
          "data": {"name": "bars"},
          "transform": [{"filter": "datum.m == 'Chitin'"}],
          "layer": [
            {"mark": {"type": "bar", "stroke": "black", "strokeWidth": 1.5},
             "encoding": {
               "x": {"field": "s", "type": "nominal", "title": null, "scale": {"domain": ["Chitin|13", "Chitin+MBCD|13", "Chitin|17", "Chitin+MBCD|17"], "paddingInner": 0, "paddingOuter": 0}, "axis": {"labelExpr": "split(datum.label, '|')[0]", "labelAngle": -45}},
               "xOffset": {"field": "c", "type": "nominal", "scale": {"domain": ["Control", "1% (v/v)", "2.5% (v/v)", "5% (v/v)", "10% (v/v)"], "paddingInner": 0.474, "paddingOuter": 0.99}},
               "y": {"field": "v", "type": "quantitative", "title": null, "scale": {"domain": [0, 80], "nice": false}, "axis": {"values": [0, 20, 40, 60, 80]}},
               "fill": {"field": "c", "type": "nominal", "scale": {"domain": ["Control", "1% (v/v)", "2.5% (v/v)", "5% (v/v)", "10% (v/v)"], "range": ["#ffff00", "#1fb573", "#4fa6f7", "#f652d9", "#ff0000"]}, "legend": null}
             }},
            {"transform": [{"filter": "datum.c == '2.5% (v/v)' && datum.v < 50"}],
             "mark": {"type": "bar", "stroke": "black", "strokeWidth": 1.5, "fill": {"gradient": "linear", "x1": 0, "y1": 0, "x2": 0.067, "y2": 1, "stops": [
               {"offset": 0, "color": "#4fa6f7"}, {"offset": 0.05, "color": "#4fa6f7"}, {"offset": 0.05, "color": "#000000"}, {"offset": 0.1, "color": "#000000"},
               {"offset": 0.1, "color": "#4fa6f7"}, {"offset": 0.15, "color": "#4fa6f7"}, {"offset": 0.15, "color": "#000000"}, {"offset": 0.2, "color": "#000000"},
               {"offset": 0.2, "color": "#4fa6f7"}, {"offset": 0.25, "color": "#4fa6f7"}, {"offset": 0.25, "color": "#000000"}, {"offset": 0.3, "color": "#000000"},
               {"offset": 0.3, "color": "#4fa6f7"}, {"offset": 0.35, "color": "#4fa6f7"}, {"offset": 0.35, "color": "#000000"}, {"offset": 0.4, "color": "#000000"},
               {"offset": 0.4, "color": "#4fa6f7"}, {"offset": 0.45, "color": "#4fa6f7"}, {"offset": 0.45, "color": "#000000"}, {"offset": 0.5, "color": "#000000"},
               {"offset": 0.5, "color": "#4fa6f7"}, {"offset": 0.55, "color": "#4fa6f7"}, {"offset": 0.55, "color": "#000000"}, {"offset": 0.6, "color": "#000000"},
               {"offset": 0.6, "color": "#4fa6f7"}, {"offset": 0.65, "color": "#4fa6f7"}, {"offset": 0.65, "color": "#000000"}, {"offset": 0.7, "color": "#000000"},
               {"offset": 0.7, "color": "#4fa6f7"}, {"offset": 0.75, "color": "#4fa6f7"}, {"offset": 0.75, "color": "#000000"}, {"offset": 0.8, "color": "#000000"},
               {"offset": 0.8, "color": "#4fa6f7"}, {"offset": 0.85, "color": "#4fa6f7"}, {"offset": 0.85, "color": "#000000"}, {"offset": 0.9, "color": "#000000"},
               {"offset": 0.9, "color": "#4fa6f7"}, {"offset": 0.95, "color": "#4fa6f7"}, {"offset": 0.95, "color": "#000000"}, {"offset": 1, "color": "#000000"}]}},
             "encoding": {
               "x": {"field": "s", "type": "nominal", "title": null},
               "xOffset": {"field": "c", "type": "nominal"},
               "y": {"field": "v", "type": "quantitative", "title": null}
             }},
            {"transform": [{"filter": "datum.c == '2.5% (v/v)' && datum.v >= 50"}],
             "mark": {"type": "bar", "stroke": "black", "strokeWidth": 1.5, "fill": {"gradient": "linear", "x1": 0, "y1": 0, "x2": 0.042, "y2": 1, "stops": [
               {"offset": 0, "color": "#4fa6f7"}, {"offset": 0.03125, "color": "#4fa6f7"}, {"offset": 0.03125, "color": "#000000"}, {"offset": 0.0625, "color": "#000000"},
               {"offset": 0.0625, "color": "#4fa6f7"}, {"offset": 0.09375, "color": "#4fa6f7"}, {"offset": 0.09375, "color": "#000000"}, {"offset": 0.125, "color": "#000000"},
               {"offset": 0.125, "color": "#4fa6f7"}, {"offset": 0.15625, "color": "#4fa6f7"}, {"offset": 0.15625, "color": "#000000"}, {"offset": 0.1875, "color": "#000000"},
               {"offset": 0.1875, "color": "#4fa6f7"}, {"offset": 0.21875, "color": "#4fa6f7"}, {"offset": 0.21875, "color": "#000000"}, {"offset": 0.25, "color": "#000000"},
               {"offset": 0.25, "color": "#4fa6f7"}, {"offset": 0.28125, "color": "#4fa6f7"}, {"offset": 0.28125, "color": "#000000"}, {"offset": 0.3125, "color": "#000000"},
               {"offset": 0.3125, "color": "#4fa6f7"}, {"offset": 0.34375, "color": "#4fa6f7"}, {"offset": 0.34375, "color": "#000000"}, {"offset": 0.375, "color": "#000000"},
               {"offset": 0.375, "color": "#4fa6f7"}, {"offset": 0.40625, "color": "#4fa6f7"}, {"offset": 0.40625, "color": "#000000"}, {"offset": 0.4375, "color": "#000000"},
               {"offset": 0.4375, "color": "#4fa6f7"}, {"offset": 0.46875, "color": "#4fa6f7"}, {"offset": 0.46875, "color": "#000000"}, {"offset": 0.5, "color": "#000000"},
               {"offset": 0.5, "color": "#4fa6f7"}, {"offset": 0.53125, "color": "#4fa6f7"}, {"offset": 0.53125, "color": "#000000"}, {"offset": 0.5625, "color": "#000000"},
               {"offset": 0.5625, "color": "#4fa6f7"}, {"offset": 0.59375, "color": "#4fa6f7"}, {"offset": 0.59375, "color": "#000000"}, {"offset": 0.625, "color": "#000000"},
               {"offset": 0.625, "color": "#4fa6f7"}, {"offset": 0.65625, "color": "#4fa6f7"}, {"offset": 0.65625, "color": "#000000"}, {"offset": 0.6875, "color": "#000000"},
               {"offset": 0.6875, "color": "#4fa6f7"}, {"offset": 0.71875, "color": "#4fa6f7"}, {"offset": 0.71875, "color": "#000000"}, {"offset": 0.75, "color": "#000000"},
               {"offset": 0.75, "color": "#4fa6f7"}, {"offset": 0.78125, "color": "#4fa6f7"}, {"offset": 0.78125, "color": "#000000"}, {"offset": 0.8125, "color": "#000000"},
               {"offset": 0.8125, "color": "#4fa6f7"}, {"offset": 0.84375, "color": "#4fa6f7"}, {"offset": 0.84375, "color": "#000000"}, {"offset": 0.875, "color": "#000000"},
               {"offset": 0.875, "color": "#4fa6f7"}, {"offset": 0.90625, "color": "#4fa6f7"}, {"offset": 0.90625, "color": "#000000"}, {"offset": 0.9375, "color": "#000000"},
               {"offset": 0.9375, "color": "#4fa6f7"}, {"offset": 0.96875, "color": "#4fa6f7"}, {"offset": 0.96875, "color": "#000000"}, {"offset": 1, "color": "#000000"}]}},
             "encoding": {
               "x": {"field": "s", "type": "nominal", "title": null},
               "xOffset": {"field": "c", "type": "nominal"},
               "y": {"field": "v", "type": "quantitative", "title": null}
             }},
            {"transform": [{"filter": "datum.c == '5% (v/v)'"}],
             "mark": {"type": "rule", "color": "black", "strokeWidth": 10, "strokeDash": [1.6, 8.2], "strokeCap": "butt"},
             "encoding": {
               "x": {"field": "s", "type": "nominal", "title": null},
               "xOffset": {"field": "c", "type": "nominal"},
               "y": {"field": "v", "type": "quantitative", "title": null},
               "y2": {"datum": 0}
             }},
            {"mark": {"type": "rule", "color": "black", "strokeWidth": 1.5},
             "encoding": {
               "x": {"field": "s", "type": "nominal", "title": null},
               "xOffset": {"field": "c", "type": "nominal"},
               "y": {"field": "lo", "type": "quantitative", "title": null},
               "y2": {"field": "hi"}
             }},
            {"mark": {"type": "tick", "color": "black", "thickness": 1.5, "size": 6},
             "encoding": {
               "x": {"field": "s", "type": "nominal", "title": null},
               "xOffset": {"field": "c", "type": "nominal"},
               "y": {"field": "lo", "type": "quantitative", "title": null}
             }},
            {"mark": {"type": "tick", "color": "black", "thickness": 1.5, "size": 6},
             "encoding": {
               "x": {"field": "s", "type": "nominal", "title": null},
               "xOffset": {"field": "c", "type": "nominal"},
               "y": {"field": "hi", "type": "quantitative", "title": null}
             }},
            {"data": {"values": [{"sep": "day"}]},
             "mark": {"type": "rule", "color": "black", "strokeWidth": 2, "strokeDash": [6, 4]},
             "encoding": {
               "x": {"datum": "Chitin+MBCD|13", "type": "nominal", "bandPosition": 1, "title": null},
               "y": {"datum": 0, "type": "quantitative", "title": null},
               "y2": {"datum": 80}
             }}
          ]
        },
        {
          "width": 495, "height": 52,
          "data": {"values": [{"d": "On 13ᵗʰ day"}, {"d": "On 17ᵗʰ day"}]},
          "layer": [
            {"mark": {"type": "bar", "color": "black"},
             "encoding": {
               "x": {"field": "d", "type": "nominal", "title": null, "scale": {"range": [-5, 495], "paddingInner": 0.045, "paddingOuter": 0}, "axis": {"domain": false, "ticks": false, "labelAngle": 0, "labelAlign": "center", "labelBaseline": "top", "labelFontSize": 29, "labelPadding": 0}},
               "y": {"datum": 0.47, "type": "quantitative", "scale": {"domain": [0, 1]}, "axis": null},
               "y2": {"datum": 0.53}
             }},
            {"mark": {"type": "rule", "color": "black", "strokeWidth": 3},
             "encoding": {
               "x": {"field": "d", "type": "nominal", "bandPosition": 0, "title": null},
               "y": {"datum": 0.32, "type": "quantitative", "axis": null},
               "y2": {"datum": 0.68}
             }},
            {"mark": {"type": "rule", "color": "black", "strokeWidth": 3},
             "encoding": {
               "x": {"field": "d", "type": "nominal", "bandPosition": 1, "title": null},
               "y": {"datum": 0.32, "type": "quantitative", "axis": null},
               "y2": {"datum": 0.68}
             }}
          ]
        }
      ]
    }
  ]
}
